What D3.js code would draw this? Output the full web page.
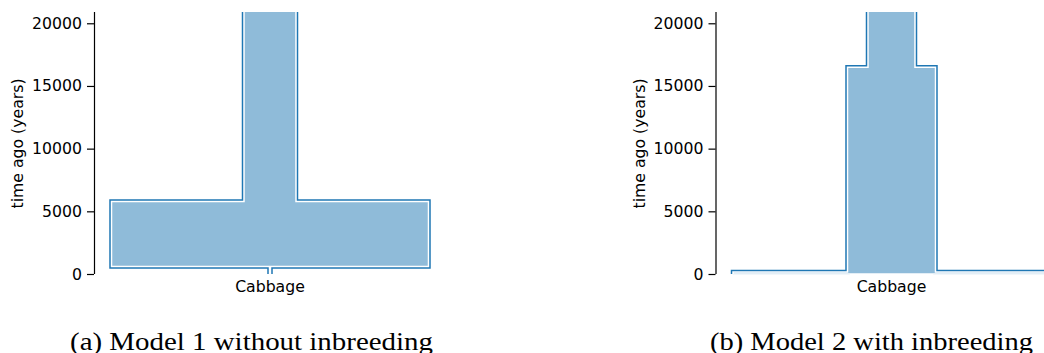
<!DOCTYPE html>
<html>
<head>
<meta charset="utf-8">
<script src="https://cdn.jsdelivr.net/npm/d3@7"></script>
<style>
  body { margin: 0; background: #fff; }
  svg { display: block; }
  .tick text { font-family: "DejaVu Sans", sans-serif; font-size: 15.7px; fill: #000; }
</style>
</head>
<body>
<div id="chart"></div>
<script>
// deme name and axis ticks
var demeName = "Cabbage";
var yTicks = [0, 5000, 10000, 15000, 20000];
var captions = ["(a) Model 1 without inbreeding", "(b) Model 2 with inbreeding"];

// model 1: epochs from oldest to youngest (years ago / population size)
var m1Start = [Infinity, 5780, 600];
var m1End = [5780, 600, 0];
var m1Size = [5200, 31700, 100];

// model 2
var m2Start = [Infinity, 16500, 160];
var m2End = [16500, 160, 0];
var m2Size = [4700, 8800, 31700];

var models = [
  {start: m1Start, end: m1End, size: m1Size},
  {start: m2Start, end: m2End, size: m2Size}
];

var W = 1044, H = 353;
var panelLeft = [94, 715.5];
var plotW = 352;
var plotTop = 12, plotBottom = 274;

var svg = d3.select('#chart').append('svg')
  .attr('width', W)
  .attr('height', H);

var y = d3.scaleLinear().domain([0, 20900]).range([plotBottom, plotTop]);
var x = d3.scaleLinear().domain([-17600, 17600]).range([0, plotW]);

models.forEach(function(m, k) {
  var g = svg.append('g')
    .attr('transform', 'translate(' + panelLeft[k] + ',0)');

  g.append('clipPath')
    .attr('id', 'clip' + k)
    .append('rect')
    .attr('x', 0)
    .attr('y', plotTop)
    .attr('width', plotW)
    .attr('height', plotBottom - plotTop + 8);

  // left side goes down, right side goes up
  var leftSide = [], rightSide = [];
  m.start.forEach(function(s, i) {
    var t0 = isFinite(s) ? s : 30000;
    leftSide.push([x(-m.size[i] / 2), y(t0)]);
    leftSide.push([x(-m.size[i] / 2), y(m.end[i])]);
    rightSide.push([x(m.size[i] / 2), y(t0)]);
    rightSide.push([x(m.size[i] / 2), y(m.end[i])]);
  });
  rightSide.reverse();

  var line = d3.line();
  var shape = g.append('g').attr('clip-path', 'url(#clip' + k + ')');

  // blue outline on the sides
  [leftSide, rightSide].forEach(function(pts) {
    shape.append('path')
      .attr('d', line(pts))
      .attr('fill', 'none')
      .attr('stroke', '#1f77b4')
      .attr('stroke-width', 4.5)
      .attr('stroke-linejoin', 'miter');
  });

  // tube fill with white inner edge
  shape.append('path')
    .attr('d', line(leftSide.concat(rightSide)) + 'Z')
    .attr('fill', '#8fbbd9')
    .attr('stroke', '#fff')
    .attr('stroke-width', 1.5)
    .attr('stroke-linejoin', 'miter');

  // y axis
  var ax = g.append('g')
    .call(d3.axisLeft(y).tickValues(yTicks).tickSize(7).tickPadding(5).tickFormat(d3.format('d')));
  ax.select('.domain')
    .attr('d', 'M0.5,' + plotTop + 'V' + plotBottom)
    .attr('stroke', '#000')
    .attr('stroke-width', 1.2);
  ax.selectAll('.tick line').attr('stroke', '#000').attr('stroke-width', 1.2);

  g.append('text')
    .attr('transform', 'translate(-71,143.5) rotate(-90)')
    .attr('text-anchor', 'middle')
    .style('font-family', '"DejaVu Sans", sans-serif')
    .style('font-size', '15.7px')
    .text('time ago (years)');

  // deme label on the x axis
  g.append('text')
    .attr('x', x(0))
    .attr('y', 292)
    .attr('text-anchor', 'middle')
    .style('font-family', '"DejaVu Sans", sans-serif')
    .style('font-size', '15.7px')
    .text(demeName);
});

// sub captions
var capX = [251.5, 871.5];
var capW = [363, 323];
captions.forEach(function(c, i) {
  svg.append('text')
    .attr('x', capX[i])
    .attr('y', 350)
    .attr('text-anchor', 'middle')
    .attr('textLength', capW[i])
    .attr('lengthAdjust', 'spacingAndGlyphs')
    .style('font-family', '"Liberation Serif", serif')
    .style('font-size', '25px')
    .style('fill', '#000')
    .text(c);
});
</script>
</body>
</html>
